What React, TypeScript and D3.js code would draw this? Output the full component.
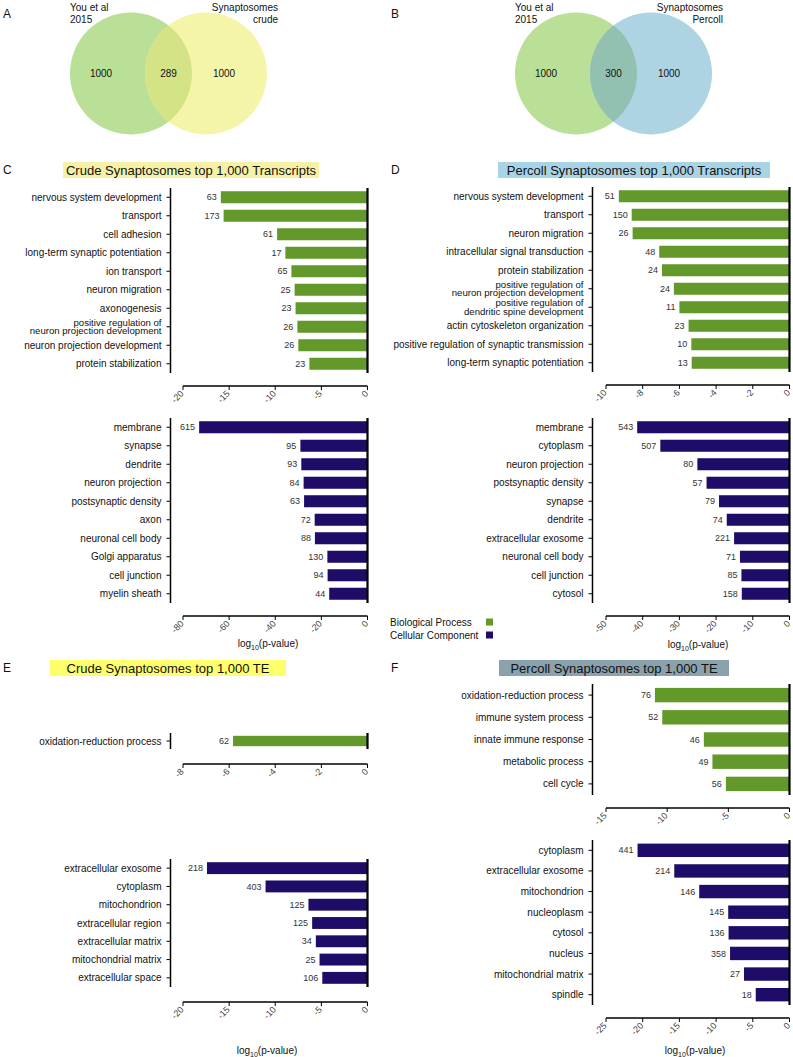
import React from 'react'
import * as d3 from 'd3'

// crude synaptosomes, top 1,000 transcripts
const crudeBPTerms = [
  'nervous system development', 'transport', 'cell adhesion', 'long-term synaptic potentiation',
  'ion transport', 'neuron migration', 'axonogenesis',
  'positive regulation of\nneuron projection development', 'neuron projection development',
  'protein stabilization',
]
const crudeBPLog = [-15.9, -15.6, -9.8, -8.9, -8.25, -7.9, -7.8, -7.6, -7.5, -6.3]
const crudeBPCount = [63, 173, 61, 17, 65, 25, 23, 26, 26, 23]
const crudeBPTicks = [-20, -15, -10, -5, 0]

const crudeCCTerms = [
  'membrane', 'synapse', 'dendrite', 'neuron projection', 'postsynaptic density', 'axon',
  'neuronal cell body', 'Golgi apparatus', 'cell junction', 'myelin sheath',
]
const crudeCCLog = [-73, -29.1, -28.7, -27.7, -27.5, -22.9, -22.8, -17.4, -17.3, -16.6]
const crudeCCCount = [615, 95, 93, 84, 63, 72, 88, 130, 94, 44]
const crudeCCTicks = [-80, -60, -40, -20, 0]

// percoll synaptosomes, top 1,000 transcripts
const percollBPTerms = [
  'nervous system development', 'transport', 'neuron migration', 'intracellular signal transduction',
  'protein stabilization', 'positive regulation of\nneuron projection development',
  'positive regulation of\ndendritic spine development', 'actin cytoskeleton organization',
  'positive regulation of synaptic transmission', 'long-term synaptic potentiation',
]
const percollBPLog = [-9.3, -8.6, -8.55, -7.1, -6.95, -6.3, -6.0, -5.5, -5.35, -5.33]
const percollBPCount = [51, 150, 26, 48, 24, 24, 11, 23, 10, 13]
const percollBPTicks = [-10, -8, -6, -4, -2, 0]

const percollCCTerms = [
  'membrane', 'cytoplasm', 'neuron projection', 'postsynaptic density', 'synapse', 'dendrite',
  'extracellular exosome', 'neuronal cell body', 'cell junction', 'cytosol',
]
const percollCCLog = [-41.5, -35.2, -25.1, -22.6, -19.2, -17.1, -15.1, -13.5, -13.1, -13.0]
const percollCCCount = [543, 507, 80, 57, 79, 74, 221, 71, 85, 158]
const percollCCTicks = [-50, -40, -30, -20, -10, 0]

// top 1,000 TE
const crudeTEBPTerms = ['oxidation-reduction process']
const crudeTEBPLog = [-5.83]
const crudeTEBPCount = [62]
const crudeTEBPTicks = [-8, -6, -4, -2, 0]

const crudeTECCTerms = [
  'extracellular exosome', 'cytoplasm', 'mitochondrion', 'extracellular region',
  'extracellular matrix', 'mitochondrial matrix', 'extracellular space',
]
const crudeTECCLog = [-17.4, -11.05, -6.4, -6.0, -5.6, -5.2, -4.9]
const crudeTECCCount = [218, 403, 125, 125, 34, 25, 106]
const crudeTECCTicks = [-20, -15, -10, -5, 0]

const percollTEBPTerms = [
  'oxidation-reduction process', 'immune system process', 'innate immune response',
  'metabolic process', 'cell cycle',
]
const percollTEBPLog = [-11.0, -10.4, -7.0, -6.3, -5.2]
const percollTEBPCount = [76, 52, 46, 49, 56]
const percollTEBPTicks = [-15, -10, -5, 0]

const percollTECCTerms = [
  'cytoplasm', 'extracellular exosome', 'mitochondrion', 'nucleoplasm', 'cytosol', 'nucleus',
  'mitochondrial matrix', 'spindle',
]
const percollTECCLog = [-20.7, -15.7, -12.3, -8.35, -8.3, -8.1, -6.2, -4.6]
const percollTECCCount = [441, 214, 146, 145, 136, 358, 27, 18]
const percollTECCTicks = [-25, -20, -15, -10, -5, 0]

// venn diagrams
const vennA = { left: 'You et al\n2015', right: 'Synaptosomes\ncrude', counts: [1000, 289, 1000] }
const vennB = { left: 'You et al\n2015', right: 'Synaptosomes\nPercoll', counts: [1000, 300, 1000] }

const GREEN = '#63992b'
const NAVY = '#1f0b68'
const FONT = 'Liberation Sans, Arial, Helvetica, sans-serif'

const LEFT_COL = { axisX: 170.5, x0: 183, x1: 367.5 }
const RIGHT_COL = { axisX: 592.5, x0: 606, x1: 789.5 }

function Bars({ col, terms, values, counts, ticks, color, top, bottom, axisY }) {
  const x = d3.scaleLinear().domain([ticks[0], 0]).range([col.x0, col.x1])
  const y = d3.scaleBand().domain(terms).range([top, bottom]).paddingInner(0.35).paddingOuter(0.175)
  const bw = y.bandwidth()

  return (
    <g fontFamily={FONT}>
      {terms.map((t, i) => {
        const cy = y(t) + bw / 2
        const lines = t.split('\n')
        const two = lines.length > 1
        return (
          <g key={t + i}>
            <rect x={x(values[i])} y={y(t)} width={x(0) - x(values[i])} height={bw} fill={color} />
            <text x={x(values[i]) - 4} y={cy} dy="0.35em" textAnchor="end" fontSize={9} fill="#333">
              {counts[i]}
            </text>
            <line x1={col.axisX - 4} x2={col.axisX} y1={cy} y2={cy} stroke="#000" strokeWidth={1} />
            {lines.map((l, j) => (
              <text
                key={j}
                x={col.axisX - 9}
                y={cy + (j - (lines.length - 1) / 2) * 8.6}
                dy="0.35em"
                textAnchor="end"
                fontSize={two ? 9.6 : 10}
                fill="#111"
              >
                {l}
              </text>
            ))}
          </g>
        )
      })}
      <line x1={col.axisX} x2={col.axisX} y1={top} y2={bottom} stroke="#000" strokeWidth={1.5} />
      <line x1={x(0)} x2={x(0)} y1={top} y2={bottom} stroke="#000" strokeWidth={2.2} />
      <line x1={col.x0} x2={col.x1} y1={axisY} y2={axisY} stroke="#000" strokeWidth={1.5} />
      {ticks.map((tk) => (
        <g key={tk}>
          <line x1={x(tk)} x2={x(tk)} y1={axisY} y2={axisY + 4} stroke="#000" strokeWidth={1} />
          <text
            transform={`translate(${x(tk) - 1},${axisY + 6}) rotate(-45)`}
            textAnchor="end"
            dy="0.35em"
            fontSize={9}
            fill="#444"
          >
            {tk}
          </text>
        </g>
      ))}
    </g>
  )
}

function Venn({ cx, data, rightColor, overlapColor, id }) {
  const r = 61
  const c1 = cx
  const c2 = cx + 75
  const cy = 73.5
  const leftLines = data.left.split('\n')
  const rightLines = data.right.split('\n')
  return (
    <g fontFamily={FONT}>
      <defs>
        <clipPath id={id}>
          <circle cx={c1} cy={cy} r={r} />
        </clipPath>
      </defs>
      <circle cx={c1} cy={cy} r={r} fill="#badf96" />
      <circle cx={c2} cy={cy} r={r} fill={rightColor} />
      <circle cx={c2} cy={cy} r={r} fill={overlapColor} clipPath={`url(#${id})`} />
      {leftLines.map((l, j) => (
        <text key={'l' + j} x={c1 - r} y={7 + j * 12.5} dy="0.35em" fontSize={10} fill="#111">
          {l}
        </text>
      ))}
      {rightLines.map((l, j) => (
        <text key={'r' + j} x={c2 + r + 11} y={7 + j * 12.5} dy="0.35em" textAnchor="end" fontSize={10} fill="#111">
          {l}
        </text>
      ))}
      <text x={c1 - 30} y={cy} dy="0.35em" textAnchor="middle" fontSize={10} fill="#111">{data.counts[0]}</text>
      <text x={(c1 + c2) / 2} y={cy} dy="0.35em" textAnchor="middle" fontSize={10} fill="#111">{data.counts[1]}</text>
      <text x={c2 + 18} y={cy} dy="0.35em" textAnchor="middle" fontSize={10} fill="#111">{data.counts[2]}</text>
    </g>
  )
}

function Title({ x, y, w, text, bg }) {
  return (
    <g fontFamily={FONT}>
      <rect x={x} y={y - 8} width={w} height={16} fill={bg} />
      <text x={x + w / 2} y={y} dy="0.35em" textAnchor="middle" fontSize={13} fill="#111">
        {text}
      </text>
    </g>
  )
}

function AxisLabel({ x, y }) {
  return (
    <text x={x} y={y} dy="0.35em" textAnchor="middle" fontSize={10} fill="#111" fontFamily={FONT}>
      log
      <tspan fontSize={7} dy="3">10</tspan>
      <tspan dy="-3">(p-value)</tspan>
    </text>
  )
}

export default function App() {
  const letters = [
    ['A', 3, 14], ['B', 391, 14], ['C', 3, 170], ['D', 391, 170], ['E', 3, 668], ['F', 391, 668],
  ]
  return (
    <svg width={793} height={1057} style={{ position: 'absolute', left: 0, top: 0, background: '#fff' }}>
      {letters.map(([l, x, y]) => (
        <text key={l} x={x} y={y} dy="0.35em" fontSize={12} fontFamily={FONT} fill="#111">{l}</text>
      ))}

      <Venn cx={131} data={vennA} rightColor="#f5f5aa" overlapColor="#d4e385" id="clipA" />
      <Venn cx={576} data={vennB} rightColor="#aed3e3" overlapColor="#93c1b1" id="clipB" />

      <Title x={63} y={170} w={256} text="Crude Synaptosomes top 1,000 Transcripts" bg="#f6f1a6" />
      <Title x={498} y={170} w={272} text="Percoll Synaptosomes top 1,000 Transcripts" bg="#a9d4e6" />
      <Title x={50} y={668} w={236} text="Crude Synaptosomes top 1,000 TE" bg="#ffff6e" />
      <Title x={499} y={668} w={230} text="Percoll Synaptosomes top 1,000 TE" bg="#8ba1ac" />

      <Bars col={LEFT_COL} terms={crudeBPTerms} values={crudeBPLog} counts={crudeBPCount}
        ticks={crudeBPTicks} color={GREEN} top={188} bottom={373} axisY={386} />
      <Bars col={LEFT_COL} terms={crudeCCTerms} values={crudeCCLog} counts={crudeCCCount}
        ticks={crudeCCTicks} color={NAVY} top={418} bottom={603} axisY={616} />
      <AxisLabel x={268} y={643} />

      <Bars col={RIGHT_COL} terms={percollBPTerms} values={percollBPLog} counts={percollBPCount}
        ticks={percollBPTicks} color={GREEN} top={187} bottom={372} axisY={385} />
      <Bars col={RIGHT_COL} terms={percollCCTerms} values={percollCCLog} counts={percollCCCount}
        ticks={percollCCTicks} color={NAVY} top={418} bottom={603} axisY={616} />
      <AxisLabel x={698} y={644} />

      <g fontFamily={FONT} fontSize={10} fill="#111">
        <text x={390} y={622} dy="0.35em">Biological Process</text>
        <text x={390} y={635} dy="0.35em">Cellular Component</text>
        <rect x={486} y={618.5} width={7} height={7} fill={GREEN} />
        <rect x={486} y={631.5} width={7} height={7} fill={NAVY} />
      </g>

      <Bars col={LEFT_COL} terms={crudeTEBPTerms} values={crudeTEBPLog} counts={crudeTEBPCount}
        ticks={crudeTEBPTicks} color={GREEN} top={733} bottom={749} axisY={764} />
      <Bars col={LEFT_COL} terms={crudeTECCTerms} values={crudeTECCLog} counts={crudeTECCCount}
        ticks={crudeTECCTicks} color={NAVY} top={859} bottom={987} axisY={1002} />
      <AxisLabel x={267} y={1050} />

      <Bars col={RIGHT_COL} terms={percollTEBPTerms} values={percollTEBPLog} counts={percollTEBPCount}
        ticks={percollTEBPTicks} color={GREEN} top={684} bottom={795} axisY={808} />
      <Bars col={RIGHT_COL} terms={percollTECCTerms} values={percollTECCLog} counts={percollTECCCount}
        ticks={percollTECCTicks} color={NAVY} top={840} bottom={1005} axisY={1018} />
      <AxisLabel x={695} y={1050} />
    </svg>
  )
}
